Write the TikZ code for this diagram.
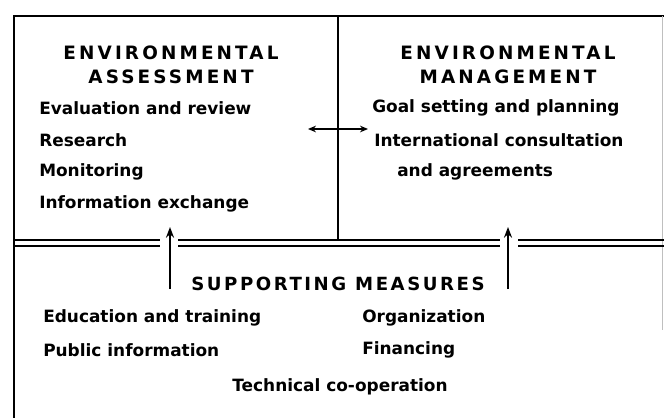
\documentclass[tikz,border=0pt]{standalone}
\usepackage{fontspec}
\setmainfont{DejaVu Sans}
\usetikzlibrary{arrows.meta}
\begin{document}
\begin{tikzpicture}[x=0.75pt,y=-0.75pt,
  heading/.style={font=\fontsize{13.6}{18}\selectfont\bfseries\addfontfeature{LetterSpace=14}, align=center, inner sep=0pt},
  bighead/.style={font=\fontsize{13.8}{18}\selectfont\bfseries\addfontfeature{LetterSpace=17}, align=center, inner sep=0pt},
  item/.style={font=\fontsize{12.7}{14}\selectfont\bfseries, anchor=west, inner sep=0pt},
  frame/.style={line width=2.2pt, black},
  dline/.style={line width=1.7pt, black},
  uparrow/.style={line width=1.6pt, -{Stealth[length=8pt,width=6pt]}},
  harrow/.style={line width=1pt, {Stealth[length=6pt,width=5pt]}-{Stealth[length=6pt,width=5pt]}}]
\useasboundingbox (0,0) rectangle (664,418);
% frame
\coordinate (tl) at (14,16);
\coordinate (tr) at (664,16);
\coordinate (bl) at (14,418);
\coordinate (mt) at (338,16);
\coordinate (mb) at (338,241);
\draw[frame] (tr) -- (tl) -- (bl);
\draw[frame] (mt) -- (mb);
\draw[line width=0.6pt, black!25] (662,16) -- (662,330);
% double lines
\draw[dline] (14,240) -- (160,240) (14,246) -- (160,246);
\draw[dline] (178,240) -- (500,240) (178,246) -- (500,246);
\draw[dline] (518,240) -- (664,240) (518,246) -- (664,246);
% headings
\node[bighead] (ea) at (171,65) {ENVIRONMENTAL\\ASSESSMENT};
\node[bighead] (em) at (508,65) {ENVIRONMENTAL\\MANAGEMENT};
% left items
\node[item] (ev) at (39,108) {Evaluation and review};
\node[item] (re) at (39,140) {Research};
\node[item] (mo) at (39,172) {Monitoring};
\node[item] (ie) at (39,204) {Information exchange};
% right items
\node[item] (gs) at (372,108) {Goal setting and planning};
\node[item] (ic) at (374,140) {International consultation};
\node[item] (ag) at (397,172) {and agreements};
% supporting
\node[heading] (sm) at (338,284) {SUPPORTING MEASURES};
\node[item] (et) at (43,318) {Education and training};
\node[item] (pi) at (43,350) {Public information};
\node[item] (or) at (362,318) {Organization};
\node[item] (fi) at (362,350) {Financing};
\node[item, anchor=center] (tc) at (340,387) {Technical co-operation};
% arrows
\coordinate (a1s) at (170,289);
\coordinate (a1e) at (170,227);
\coordinate (a2s) at (508,289);
\coordinate (a2e) at (508,227);
\draw[uparrow] (a1s) -- (a1e);
\draw[uparrow] (a2s) -- (a2e);
\coordinate (hl) at (308,129);
\coordinate (hr) at (368,129);
\draw[harrow] (hl) -- (hr);
\end{tikzpicture}
\end{document}
